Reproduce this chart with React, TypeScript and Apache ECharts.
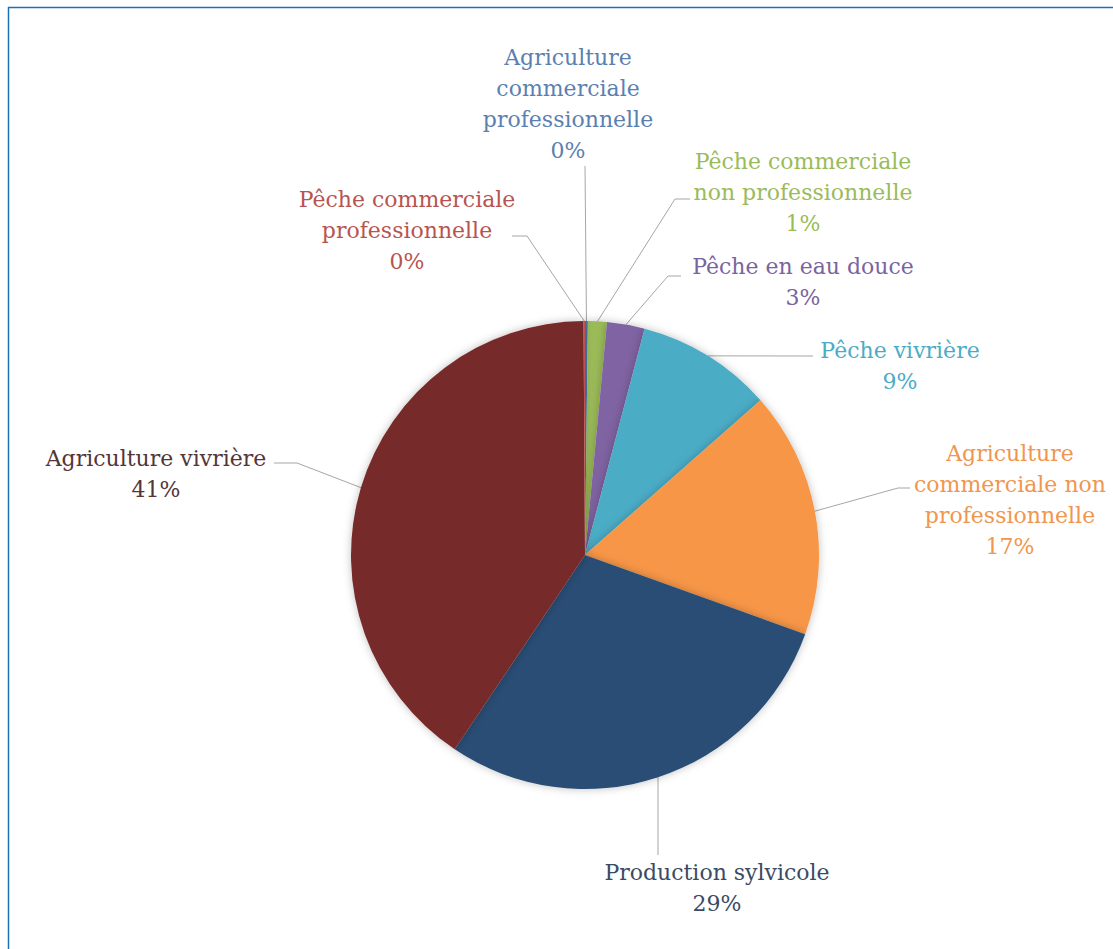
import { useEffect, useRef } from "react";
import * as echarts from "echarts";

// ---- data ----
const categories = [
  "Agriculture commerciale professionnelle",
  "Pêche commerciale non professionnelle",
  "Pêche en eau douce",
  "Pêche vivrière",
  "Agriculture commerciale non professionnelle",
  "Production sylvicole",
  "Agriculture vivrière",
  "Pêche commerciale professionnelle",
];
const shares = [0.2, 1.3, 2.6, 9.4, 17.0, 28.9, 40.5, 0.1];
const wrappedNames = [
  "Agriculture\ncommerciale\nprofessionnelle",
  "Pêche commerciale\nnon professionnelle",
  "Pêche en eau douce",
  "Pêche vivrière",
  "Agriculture\ncommerciale non\nprofessionnelle",
  "Production sylvicole",
  "Agriculture vivrière",
  "Pêche commerciale\nprofessionnelle",
];

// ---- styles ----
const sliceColors = ["#4F81BD", "#9BBB59", "#8064A2", "#4BACC6", "#F79646", "#2C4D75", "#772C2A", "#C0504D"];
const textColors = ["#5A80B0", "#9BBB59", "#7A649E", "#4BACC6", "#F0964E", "#3A4B63", "#553536", "#B85450"];

// ---- layout (label block centers and leader-line bends) ----
const labelCenters: number[][] = [
  [568, 104],
  [803, 192],
  [803, 282],
  [900, 366],
  [1010, 500],
  [717, 888],
  [156, 474],
  [407, 230],
];
const leaderBends: number[][][] = [
  [[585, 166], [585, 166]],
  [[675, 199], [690, 199]],
  [[668, 276], [681, 276]],
  [[812, 356], [813, 356]],
  [[898, 488], [910, 488]],
  [[658, 855], [658, 855]],
  [[297, 463], [274, 463]],
  [[527, 236], [512, 236]],
];

export default function App() {
  const ref = useRef<HTMLDivElement>(null);
  useEffect(() => {
    document.body.style.margin = "0";
    const chart = echarts.init(ref.current!, undefined, { renderer: "svg" });
    const cx = 585;
    const cy = 555;
    const r = 234;
    const total = shares.reduce((a, b) => a + b, 0);
    const edgePoint = (i: number) => {
      let before = 0;
      for (let k = 0; k < i; k++) before += shares[k];
      const mid = ((before + shares[i] / 2) / total) * Math.PI * 2;
      return [cx + r * Math.sin(mid), cy - r * Math.cos(mid)];
    };
    chart.setOption({
      animation: false,
      backgroundColor: "#ffffff",
      graphic: [
        { type: "line", shape: { x1: 8, y1: 7.5, x2: 1113, y2: 7.5 }, style: { stroke: "#1E6FB8", lineWidth: 1.5 } },
        { type: "line", shape: { x1: 8.5, y1: 7, x2: 8.5, y2: 949 }, style: { stroke: "#1E6FB8", lineWidth: 1.5 } },
      ],
      series: [
        {
          type: "pie",
          center: [cx, cy],
          radius: r,
          startAngle: 90,
          clockwise: true,
          avoidLabelOverlap: false,
          percentPrecision: 0,
          itemStyle: {
            borderWidth: 0,
            shadowBlur: 8,
            shadowColor: "rgba(0,0,0,0.25)",
          },
          emphasis: { disabled: true },
          label: {
            show: true,
            position: "outside",
            fontFamily: "DejaVu Serif",
            fontSize: 22,
            lineHeight: 31,
            align: "center",
            formatter: (p: any) => wrappedNames[p.dataIndex] + "\n" + Math.round(p.percent) + "%",
          },
          labelLine: {
            show: true,
            length: 10,
            length2: 10,
            smooth: false,
            lineStyle: { color: "#A6A6A6", width: 1 },
          },
          labelLayout: (p: any) => {
            const i = p.dataIndex;
            const start = p.labelLinePoints && p.labelLinePoints[0] ? p.labelLinePoints[0] : edgePoint(i);
            return {
              x: labelCenters[i][0],
              y: labelCenters[i][1],
              align: "center",
              verticalAlign: "middle",
              labelLinePoints: [start, leaderBends[i][0], leaderBends[i][1]],
            };
          },
          data: categories.map((name, i) => ({
            name,
            value: shares[i],
            itemStyle: { color: sliceColors[i] },
            label: { color: textColors[i] },
          })),
        },
      ],
    });
    return () => chart.dispose();
  }, []);
  return <div ref={ref} style={{ width: 1113, height: 949 }} />;
}
